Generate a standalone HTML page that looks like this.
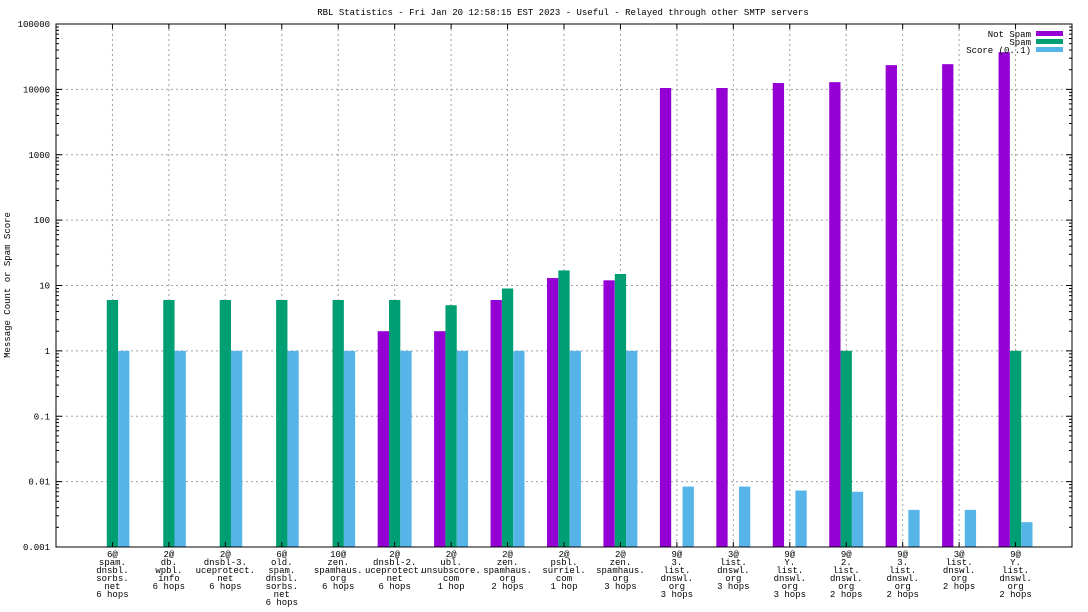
<!DOCTYPE html>
<html><head><meta charset="utf-8"><style>
html,body{margin:0;padding:0;background:#fff;}
svg{display:block;font-family:"Liberation Mono","DejaVu Sans Mono",monospace;font-size:9px;}
</style></head><body>
<svg id="chart" width="1088" height="612" viewBox="0 0 1088 612">
<text x="563" y="15" text-anchor="middle">RBL Statistics - Fri Jan 20 12:58:15 EST 2023 - Useful - Relayed through other SMTP servers</text>
<text transform="translate(10,285) rotate(-90)" text-anchor="middle">Message Count or Spam Score</text>
<g id="grid"></g>
<g id="bars"></g>
<g id="axes"></g>
<g id="legend"></g>
</svg>
<script>
const categories = [
 ["6@","spam.","dnsbl.","sorbs.","net","6 hops"],
 ["2@","db.","wpbl.","info","6 hops"],
 ["2@","dnsbl-3.","uceprotect.","net","6 hops"],
 ["6@","old.","spam.","dnsbl.","sorbs.","net","6 hops"],
 ["10@","zen.","spamhaus.","org","6 hops"],
 ["2@","dnsbl-2.","uceprotect.","net","6 hops"],
 ["2@","ubl.","unsubscore.","com","1 hop"],
 ["2@","zen.","spamhaus.","org","2 hops"],
 ["2@","psbl.","surriel.","com","1 hop"],
 ["2@","zen.","spamhaus.","org","3 hops"],
 ["9@","3.","list.","dnswl.","org","3 hops"],
 ["3@","list.","dnswl.","org","3 hops"],
 ["9@","Y.","list.","dnswl.","org","3 hops"],
 ["9@","2.","list.","dnswl.","org","2 hops"],
 ["9@","3.","list.","dnswl.","org","2 hops"],
 ["3@","list.","dnswl.","org","2 hops"],
 ["9@","Y.","list.","dnswl.","org","2 hops"]
];
const notSpam = [0,0,0,0,0,2,2,6,13,12,10500,10500,12500,12900,23500,24300,37000];
const spam = [6,6,6,6,6,6,5,9,17,15,0,0,0,1,0,0,1];
const score = [1,1,1,1,1,1,1,1,1,1,0.0084,0.0084,0.0073,0.0070,0.0037,0.0037,0.0024];
const yTicks = ["0.001","0.01","0.1","1","10","100","1000","10000","100000"];
const seriesNames = ["Not Spam","Spam","Score (0..1)"];

const NS="http://www.w3.org/2000/svg";
const L=56,R=1072,T=24,B=547;
const colors=["#9400d3","#009e73","#56b4e9"];
function x(i){return L+(i+1)*(R-L)/18;}
function y(v){return T+(5-Math.log10(v))*(B-T)/8;}
function mk(tag,attrs,parent){const e=document.createElementNS(NS,tag);for(const k in attrs)e.setAttribute(k,attrs[k]);parent.appendChild(e);return e;}
const grid=document.getElementById('grid'),bars=document.getElementById('bars'),axes=document.getElementById('axes'),legend=document.getElementById('legend');
// horizontal grid + y labels
yTicks.forEach(t=>{const v=parseFloat(t),yy=y(v);
 if(v>0.001&&v<100000){const g=mk('line',{x1:L,x2:R,y1:yy,y2:yy,stroke:'#a0a0a0','stroke-dasharray':'2,3'},grid);
 
 }
 const tx=mk('text',{x:L-6,y:yy+3,'text-anchor':'end'},axes);tx.textContent=t;
 
 
 mk('line',{x1:L,x2:L+6,y1:yy,y2:yy,stroke:'#000'},axes);
 mk('line',{x1:R,x2:R-6,y1:yy,y2:yy,stroke:'#000'},axes);
 if(v<100000)for(let m=2;m<10;m++){const ym=y(v*m);
  mk('line',{x1:L,x2:L+3,y1:ym,y2:ym,stroke:'#000'},axes);
  mk('line',{x1:R,x2:R-3,y1:ym,y2:ym,stroke:'#000'},axes);}
});
// vertical grid + x labels
categories.forEach((c,i)=>{const xx=x(i);
 const g=mk('line',{x1:xx,x2:xx,y1:T,y2:B,stroke:'#a0a0a0','stroke-dasharray':'2,3'},grid);
 
 
 mk('line',{x1:xx,x2:xx,y1:T,y2:T+5,stroke:'#000'},axes);
 mk('line',{x1:xx,x2:xx,y1:B,y2:B-5,stroke:'#000'},axes);
 const t=mk('text',{x:xx,'text-anchor':'middle'},axes);
 
 
 c.forEach((ln,j)=>{const s=mk('tspan',{x:xx,y:557+j*8},t);s.textContent=ln;});
});
// bars
const series=[notSpam,spam,score];const bw=11.3;const offs=[-17,-5.65,5.65];
series.forEach((arr,s)=>arr.forEach((v,i)=>{if(v<=0.001)return;
 const top=y(v);const r=mk('rect',{x:x(i)+offs[s],y:top,width:bw,height:B-top,fill:colors[s]},bars);
 
 }));
// frame
mk('rect',{x:L,y:T,width:R-L,height:B-T,fill:'none',stroke:'#000'},axes);
// legend
seriesNames.forEach((n,k)=>{const yy=34+k*8;
 const t=mk('text',{x:1031,y:yy+3,'text-anchor':'end'},legend);t.textContent=n;
 
 
 const r=mk('rect',{x:1036,y:yy-3,width:27,height:5,fill:colors[k]},legend);
 
 });
</script>
</body></html>
